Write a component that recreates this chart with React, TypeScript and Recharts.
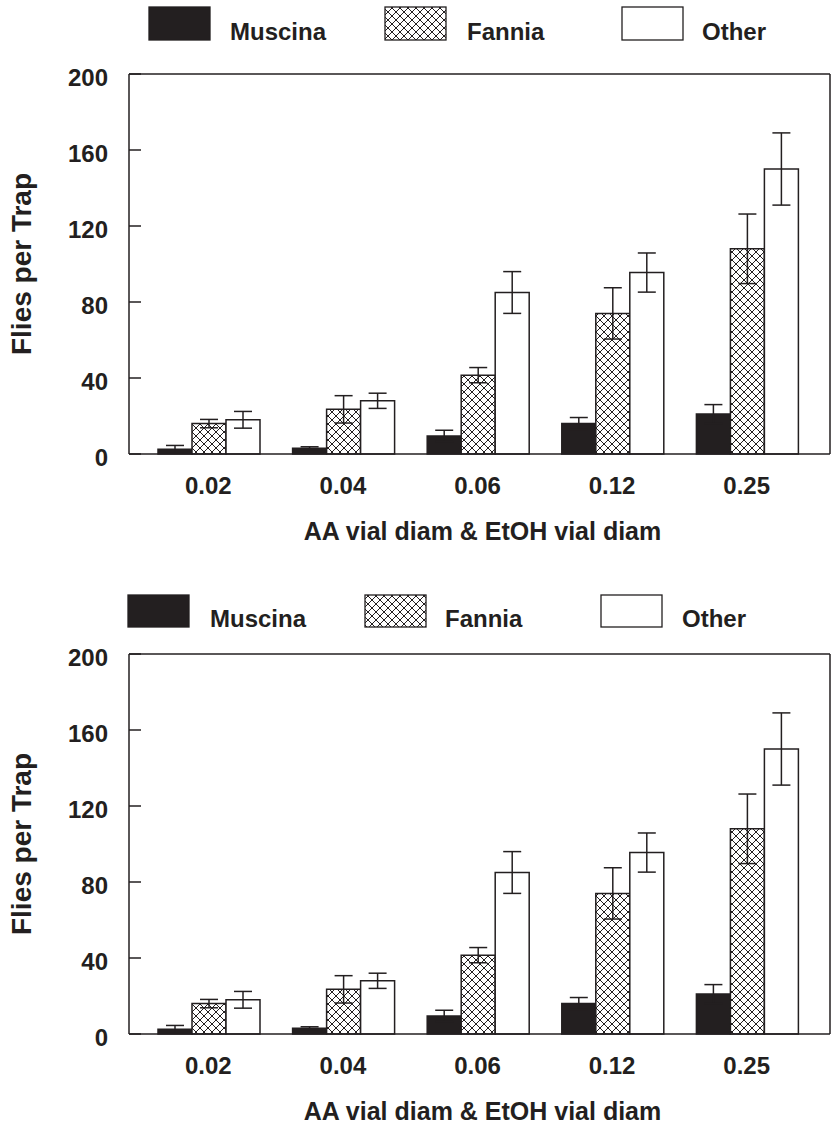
import React from 'react';
import { BarChart, Bar, XAxis, YAxis, ErrorBar, Legend } from 'recharts';

// ---- data ----
const categories = ['0.02', '0.04', '0.06', '0.12', '0.25'];
const muscina = [2.5, 3, 9.5, 16, 21];
const muscinaErr = [2, 0.8, 3, 3.2, 5];
const fannia = [16, 23.5, 41.5, 74, 108];
const fanniaErr = [2.2, 7.2, 4, 13.5, 18.3];
const other = [18, 28, 85, 95.5, 150];
const otherErr = [4.4, 4, 11, 10.3, 19];
const yTicks = [0, 40, 80, 120, 160, 200];
const seriesNames = ['Muscina', 'Fannia', 'Other'];
const xTitle = 'AA vial diam & EtOH vial diam';
const yTitle = 'Flies per Trap';

const data = categories.map((c, i) => ({
  cat: c,
  muscina: muscina[i],
  muscinaErr: muscinaErr[i],
  fannia: fannia[i],
  fanniaErr: fanniaErr[i],
  other: other[i],
  otherErr: otherErr[i],
}));

const INK = '#231f20';
const FONT = '"Liberation Sans", Arial, Helvetica, sans-serif';

const YTick = (props: any) => {
  const { x, y, payload } = props;
  return (
    <text x={x} y={y} dy={12} textAnchor="end" fontFamily={FONT} fontSize={24} fontWeight="bold" fill={INK}>
      {payload.value}
    </text>
  );
};

const XTick = (props: any) => {
  const { x, y, payload } = props;
  return (
    <text x={x} y={y} dy={17} textAnchor="middle" fontFamily={FONT} fontSize={24} fontWeight="bold" fill={INK}>
      {payload.value}
    </text>
  );
};

const YTitle = (props: any) => {
  const vb = props.viewBox || { x: 0, y: 74, width: 129, height: 380 };
  const cx = 31;
  const cy = vb.y + vb.height / 2;
  return (
    <text
      x={cx}
      y={cy}
      transform={`rotate(-90, ${cx}, ${cy})`}
      textAnchor="middle"
      fontFamily={FONT}
      fontSize={28}
      fontWeight="bold"
      fill={INK}
    >
      {yTitle}
    </text>
  );
};

const XTitle = (props: any) => {
  const vb = props.viewBox || { x: 129, y: 454, width: 701, height: 106 };
  return (
    <text
      x={vb.x + vb.width / 2 + 3}
      y={vb.y + 86}
      textAnchor="middle"
      fontFamily={FONT}
      fontSize={25}
      fontWeight="bold"
      fill={INK}
    >
      {xTitle}
    </text>
  );
};

type LegendLayout = { boxX: number[]; boxY: number; boxH: number; textX: number[]; textY: number };

const LegendContent = (props: any) => {
  const { payload, layout, fills } = props;
  const items = ([...(payload || [])] as any[]).sort(
    (a, b) => seriesNames.indexOf(a.value) - seriesNames.indexOf(b.value)
  );
  return (
    <svg width={831} height={60} style={{ display: 'block', overflow: 'visible' }}>
      {items.map((entry: any, i: number) => (
        <g key={String(entry.dataKey)}>
          <rect
            x={layout.boxX[i]}
            y={layout.boxY}
            width={61}
            height={layout.boxH}
            fill={fills[entry.dataKey] ?? entry.color}
            stroke={INK}
            strokeWidth={1.3}
          />
          <text x={layout.textX[i]} y={layout.textY} fontFamily={FONT} fontSize={24} fontWeight="bold" fill={INK}>
            {entry.value}
          </text>
        </g>
      ))}
    </svg>
  );
};

function FlyChart({ id, legendLayout }: { id: string; legendLayout: LegendLayout }) {
  const hatchId = `hatch-${id}`;
  const fills: Record<string, string> = { muscina: INK, fannia: `url(#${hatchId})`, other: '#ffffff' };
  const axisLine = { stroke: INK, strokeWidth: 1.5 };
  return (
    <BarChart
      width={831}
      height={560}
      data={data}
      margin={{ top: 73, right: 0, bottom: 0, left: 0 }}
      barCategoryGap={17}
      barGap={0}
    >
      <defs>
        <pattern id={hatchId} width={8} height={8} patternUnits="userSpaceOnUse">
          <rect width={8} height={8} fill="#ffffff" />
          <path d="M-1,-1 L9,9 M9,-1 L-1,9" stroke={INK} strokeWidth={1} />
        </pattern>
      </defs>
      <XAxis
        dataKey="cat"
        xAxisId={0}
        height={106}
        padding={{ left: 12, right: 16 }}
        tickLine={false}
        tickSize={0}
        tickMargin={23}
        axisLine={axisLine}
        tick={<XTick />}
        interval={0}
        label={{ content: (p: any) => <XTitle {...p} /> }}
      />
      <XAxis
        dataKey="cat"
        xAxisId="top"
        orientation="top"
        height={1}
        tick={false}
        tickLine={false}
        axisLine={axisLine}
      />
      <YAxis
        yAxisId={0}
        width={129}
        domain={[0, 200]}
        ticks={yTicks}
        interval={0}
        tickSize={-12}
        tickMargin={33}
        tickLine={{ stroke: INK, strokeWidth: 1.5 }}
        axisLine={axisLine}
        tick={<YTick />}
        label={{ content: (p: any) => <YTitle {...p} /> }}
      />
      <YAxis
        yAxisId="right"
        orientation="right"
        width={1}
        domain={[0, 200]}
        tick={false}
        tickLine={false}
        axisLine={axisLine}
      />
      <Legend
        layout="vertical"
        align="center"
        verticalAlign="middle"
        wrapperStyle={{ top: 0, left: 0, width: 831, height: 60 }}
        content={(p: any) => <LegendContent {...p} layout={legendLayout} fills={fills} />}
      />
      <Bar dataKey="muscina" name={seriesNames[0]} fill={fills.muscina} stroke={INK} strokeWidth={1.5} isAnimationActive={false}>
        <ErrorBar dataKey="muscinaErr" width={9} stroke={INK} strokeWidth={1.5} direction="y" isAnimationActive={false} />
      </Bar>
      <Bar dataKey="fannia" name={seriesNames[1]} fill={fills.fannia} stroke={INK} strokeWidth={1.5} isAnimationActive={false}>
        <ErrorBar dataKey="fanniaErr" width={9} stroke={INK} strokeWidth={1.5} direction="y" isAnimationActive={false} />
      </Bar>
      <Bar dataKey="other" name={seriesNames[2]} fill={fills.other} stroke={INK} strokeWidth={1.5} isAnimationActive={false}>
        <ErrorBar dataKey="otherErr" width={9} stroke={INK} strokeWidth={1.5} direction="y" isAnimationActive={false} />
      </Bar>
    </BarChart>
  );
}

const topLegend: LegendLayout = { boxX: [149, 385, 622], boxY: 7, boxH: 33, textX: [230, 467, 702], textY: 40 };
const bottomLegend: LegendLayout = { boxX: [128, 365, 601], boxY: 15, boxH: 32, textX: [210, 445, 682], textY: 47 };

export default function App() {
  return (
    <div
      style={{
        position: 'absolute',
        left: 0,
        top: 0,
        width: 831,
        height: 1124,
        overflow: 'hidden',
        background: '#ffffff',
      }}
    >
      <div style={{ position: 'absolute', left: 0, top: 0 }}>
        <FlyChart id="top" legendLayout={topLegend} />
      </div>
      <div style={{ position: 'absolute', left: 0, top: 580 }}>
        <FlyChart id="bottom" legendLayout={bottomLegend} />
      </div>
    </div>
  );
}
